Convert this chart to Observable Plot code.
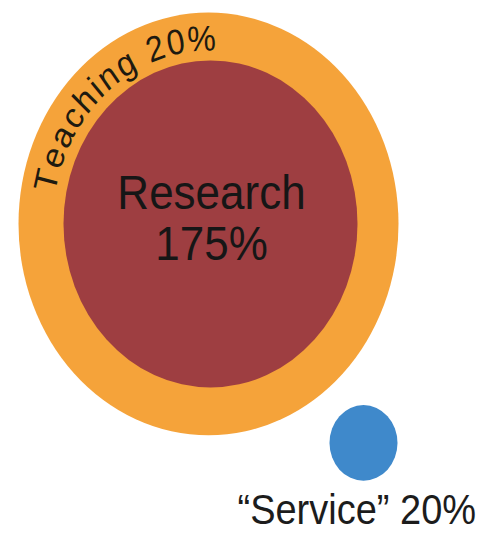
<!DOCTYPE html>
<html>
<head>
<meta charset="utf-8">
<script src="https://cdn.jsdelivr.net/npm/d3@7"></script>
<script src="https://cdn.jsdelivr.net/npm/@observablehq/plot@0.6"></script>
<style>
  html, body { margin: 0; padding: 0; background: #fff; }
  #chart svg { display: block; overflow: visible; }
</style>
</head>
<body>
<div id="chart"></div>
<script>
// ---- data ----
const categories = ["Research", "Teaching", "“Service”"];
const shares = [175, 20, 20]; // percent

// ---- layout & style (not data) ----
const W = 484, H = 534;
const S = 1.113;                  // vertical stretch of the original picture
const HS = Math.round(H / S);     // unstretched drawing height
const FONT = '"Liberation Sans", Arial, Helvetica, sans-serif';
const layout = {
  Research:    {cx: 210, cy: 200.8, r: 147, fill: "#9E3E41"},
  Teaching:    {cx: 208, cy: 200.8, r: 190, fill: "#F5A33A"},
  "“Service”": {cx: 363, cy: 397.6, r: 34,  fill: "#3F89CB"}
};
const drawOrder = ["Teaching", "Research", "“Service”"];

const bubbles = drawOrder.map(name => {
  const i = categories.indexOf(name);
  return {name, value: shares[i], ...layout[name]};
});

// Research label (centered, two lines)
const research = bubbles.find(d => d.name === "Research");
const researchLabel = [{x: 211, y: 233.6, text: `${research.name}\n${research.value}%`}];

// Service label (below the blue dot)
const service = bubbles.find(d => d.name === "“Service”");
const serviceLabel = [{x: 237, y: 470.5, text: `${service.name} ${service.value}%`}];

// Teaching label bent along the orange ring
const teaching = bubbles.find(d => d.name === "Teaching");
const arcText = `${teaching.name} ${teaching.value}%`;
const arcFont = 32;
const arcR = 166;                // radius of the glyph centres
const a0 = 166.4, a1 = 92.4;     // angles (deg, ccw from +x) of first / last glyph centres
const ctx = document.createElement("canvas").getContext("2d");
ctx.font = `${arcFont}px ${FONT}`;
const chars = [...arcText];
const widths = chars.map(c => ctx.measureText(c).width);
let halfSum = 0;
for (let i = 1; i < chars.length; i++) halfSum += widths[i - 1] / 2 + widths[i] / 2;
const arcLen = arcR * (a0 - a1) * Math.PI / 180;
const spacing = (arcLen - halfSum) / (chars.length - 1);
const arcChars = [];
let s = 0;
chars.forEach((c, i) => {
  if (i > 0) s += widths[i - 1] / 2 + spacing + widths[i] / 2;
  const th = a0 * Math.PI / 180 - s / arcR;
  if (c !== " ") {
    arcChars.push({
      ch: c,
      x: teaching.cx + arcR * Math.cos(th),
      y: teaching.cy - arcR * Math.sin(th),
      rot: 90 - th * 180 / Math.PI
    });
  }
});

const chart = Plot.plot({
  width: W,
  height: HS,
  margin: 0,
  style: {background: "#fff"},
  x: {domain: [0, W], range: [0, W], axis: null},
  y: {domain: [0, HS], range: [0, HS], axis: null},
  marks: [
    ...bubbles.map(b => Plot.dot([b], {x: "cx", y: "cy", r: b.r, fill: "fill", stroke: null})),
    Plot.text(researchLabel, {
      x: "x", y: "y", text: "text",
      fontSize: 44, fontFamily: FONT, fill: "#161616",
      textAnchor: "middle", lineAnchor: "bottom", lineHeight: 1.06
    }),
    Plot.text(arcChars, {
      x: "x", y: "y", text: "ch", rotate: "rot",
      fontSize: arcFont, fontFamily: FONT, fill: "#1e1a10",
      textAnchor: "middle", lineAnchor: "middle"
    }),
    Plot.text(serviceLabel, {
      x: "x", y: "y", text: "text",
      fontSize: 38, fontFamily: FONT, fill: "#1c1c1c",
      textAnchor: "start", lineAnchor: "bottom"
    })
  ]
});
// stretch the drawing vertically like the original picture
chart.setAttribute("viewBox", `0 0 ${W} ${HS}`);
chart.setAttribute("width", W);
chart.setAttribute("height", H);
chart.setAttribute("preserveAspectRatio", "none");
chart.style.height = H + "px";
document.getElementById("chart").appendChild(chart);
</script>
</body>
</html>
